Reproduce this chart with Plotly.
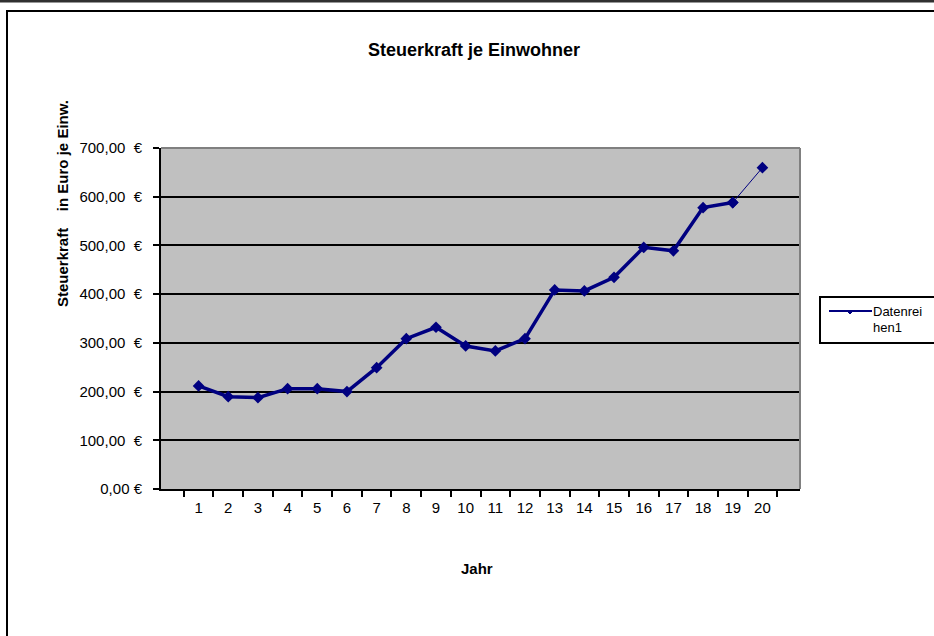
import plotly.graph_objects as go

years = [str(i) for i in range(1, 21)]
values = [211.5, 189.5, 187.5, 206, 206, 200, 249, 308.6, 332, 293.6,
          283.4, 308.6, 408.6, 406.6, 434.6, 496, 489, 577.6, 588, 659.7]
ytick_vals = [0, 100, 200, 300, 400, 500, 600, 700]
nb = "\u00a0"
ytick_text = ["0,00" + nb + "€"] + [f"{v},00{nb}{nb}€" for v in ytick_vals[1:]]
legend_lines = ["Datenrei", "hen1"]

W, H = 934, 636
L, R, T, B = 161, 800, 148, 489

def px(x):
    return (x - L) / (R - L)

def py(y):
    return (B - y) / (B - T)

navy = "#000080"
font = "Liberation Sans, Arial, sans-serif"
fig = go.Figure()
fig.add_trace(go.Scatter(
    x=years[:19], y=values[:19], mode="lines+markers",
    line=dict(color=navy, width=3.5),
    marker=dict(symbol="diamond", size=9, color=navy),
    showlegend=False,
))
fig.add_trace(go.Scatter(
    x=years[18:20], y=values[18:20], mode="lines+markers",
    line=dict(color=navy, width=1),
    marker=dict(symbol="diamond", size=9, color=navy),
    showlegend=False,
))

fig.update_layout(
    width=W, height=H,
    margin=dict(l=L, r=W - R, t=T, b=H - B),
    paper_bgcolor="white", plot_bgcolor="#C0C0C0",
    font=dict(family=font, size=15, color="black"),
    xaxis=dict(type="category", tickson="boundaries", ticks="outside",
               ticklen=6, tickwidth=2, tickcolor="black",
               showline=True, linecolor="black", linewidth=2,
               showgrid=False, tickfont=dict(size=15), ticklabelstandoff=4),
    yaxis=dict(range=[0, 700], tickvals=ytick_vals, ticktext=ytick_text,
               ticks="outside", ticklen=6, tickwidth=2, tickcolor="black",
               showline=True, linecolor="black", linewidth=2,
               showgrid=True, gridcolor="black", gridwidth=2,
               zeroline=False, tickfont=dict(size=15), ticklabelstandoff=8),
    showlegend=False,
)

fig.add_annotation(text="<b>Steuerkraft je Einwohner</b>", x=px(474), y=py(50),
                   xref="paper", yref="paper", showarrow=False,
                   font=dict(size=18), xanchor="center", yanchor="middle")
fig.add_annotation(text="<b>Steuerkraft" + nb * 4 + "in Euro je Einw.</b>",
                   x=px(62), y=py(204),
                   xref="paper", yref="paper", showarrow=False, textangle=-90,
                   font=dict(size=15), xanchor="center", yanchor="middle")
fig.add_annotation(text="<b>Jahr</b>", x=px(477), y=py(568),
                   xref="paper", yref="paper", showarrow=False,
                   font=dict(size=15), xanchor="center", yanchor="middle")

# plot area border top/right (gray)
fig.add_shape(type="line", xref="paper", yref="paper", x0=0, x1=1, y0=1, y1=1,
              line=dict(color="#808080", width=2))
fig.add_shape(type="line", xref="paper", yref="paper", x0=1, x1=1, y0=0, y1=1,
              line=dict(color="#808080", width=2))
# outer frame
fig.add_shape(type="rect", xref="paper", yref="paper",
              x0=px(7), x1=px(950), y0=py(11), y1=py(660),
              line=dict(color="black", width=2), layer="below")
fig.add_shape(type="line", xref="paper", yref="paper",
              x0=px(-5), x1=px(945), y0=py(1), y1=py(1),
              line=dict(color="#303030", width=3))

# legend box
fig.add_shape(type="rect", xref="paper", yref="paper",
              x0=px(820), x1=px(950), y0=py(297), y1=py(343),
              line=dict(color="black", width=2), fillcolor="white")
fig.add_shape(type="line", xref="paper", yref="paper",
              x0=px(829), x1=px(872), y0=py(311), y1=py(311),
              line=dict(color=navy, width=2))
fig.add_shape(type="path", xref="paper", yref="paper",
              path=f"M {px(847)},{py(311)} L {px(850)},{py(314)} L {px(853)},{py(311)} Z",
              line=dict(color=navy, width=1), fillcolor=navy)
fig.add_annotation(text=legend_lines[0], x=px(872), y=py(311), xref="paper", yref="paper",
                   showarrow=False, xanchor="left", yanchor="middle", font=dict(size=13),
                   borderpad=0)
fig.add_annotation(text=legend_lines[1], x=px(872), y=py(327), xref="paper", yref="paper",
                   showarrow=False, xanchor="left", yanchor="middle", font=dict(size=13),
                   borderpad=0)

fig.write_html("out.html", post_script="document.body.style.margin='0';",
               config={"displayModeBar": False})
